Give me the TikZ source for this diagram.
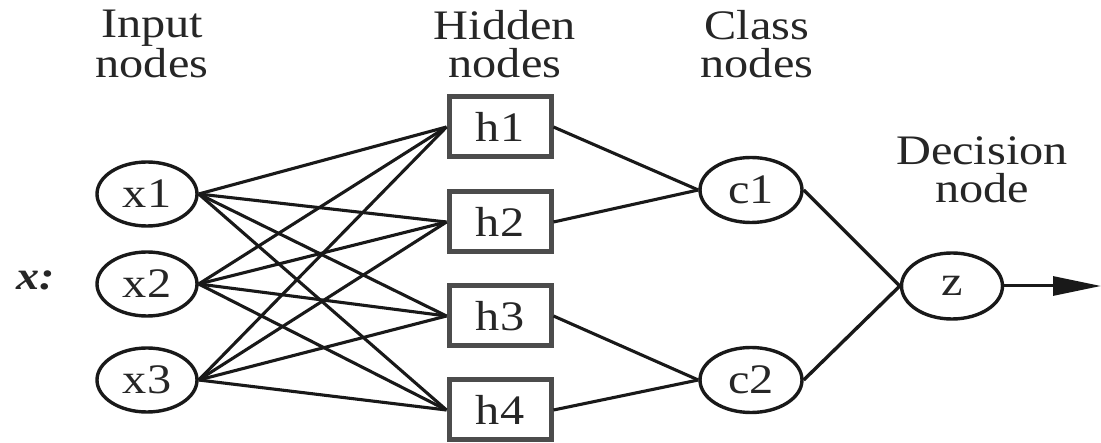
\documentclass[tikz,border=0pt]{standalone}
\usepackage{fontspec}
\setmainfont{Liberation Serif}[FakeStretch=1.15]
\usetikzlibrary{shapes.geometric,arrows.meta}
\begin{document}
\begin{tikzpicture}[x=1pt,y=-1pt,
  every node/.style={font=\fontsize{42}{38}\selectfont, text=black!85},
  inode/.style={draw=black!90, line width=3.4pt, ellipse, inner sep=0pt, minimum width=100pt, minimum height=64pt},
  hnode/.style={draw=black!70, line width=5pt, rectangle, inner sep=0pt, minimum width=102pt, minimum height=60pt},
  lbl/.style={align=center, inner sep=0pt},
  edge/.style={line width=3.1pt, black!90}]
\useasboundingbox (0,0) rectangle (1101,443);
% labels
\node[lbl] (lin) at (152,44) {Input\\nodes};
\node[lbl] (lhid) at (505,44) {Hidden\\nodes};
\node[lbl] (lcls) at (757,44) {Class\\nodes};
\node[lbl] (ldec) at (982,170) {Decision\\node};
\node[inner sep=0pt, font=\fontsize{40}{40}\selectfont\bfseries\itshape] (xl) at (36,280) {x:};
% input nodes
\node[inode] (x1) at (147,194) {x1};
\node[inode] (x2) at (147,284) {x2};
\node[inode] (x3) at (147,380) {x3};
% hidden nodes
\node[hnode] (h1) at (500,127) {h1};
\node[hnode] (h2) at (500,222) {h2};
\node[hnode] (h3) at (500,316) {h3};
\node[hnode] (h4) at (500,410) {h4};
% class nodes
\node[inode, minimum width=102pt, minimum height=65pt] (c1) at (751,190) {c1};
\node[inode, minimum width=102pt, minimum height=65pt] (c2) at (751,380) {c2};
% decision
\node[inode, minimum width=101pt, minimum height=66pt] (z) at (952,286) {z};
\coordinate (out) at (1101,286);
% edges
\foreach \i in {1,2,3}{
  \foreach \j in {1,2,3,4}{
    \draw[edge] (x\i.east) -- (h\j.west);
  }
}
\draw[edge] (h1.east) -- (c1.west);
\draw[edge] (h2.east) -- (c1.west);
\draw[edge] (h3.east) -- (c2.west);
\draw[edge] (h4.east) -- (c2.west);
\draw[edge, line width=3.4pt] (c1.east) -- (z.west);
\draw[edge, line width=3.4pt] (c2.east) -- (z.west);
\draw[edge, line width=3pt, -{Triangle[length=48pt,width=19pt]}] (z.east) -- (out);
\end{tikzpicture}
\end{document}
